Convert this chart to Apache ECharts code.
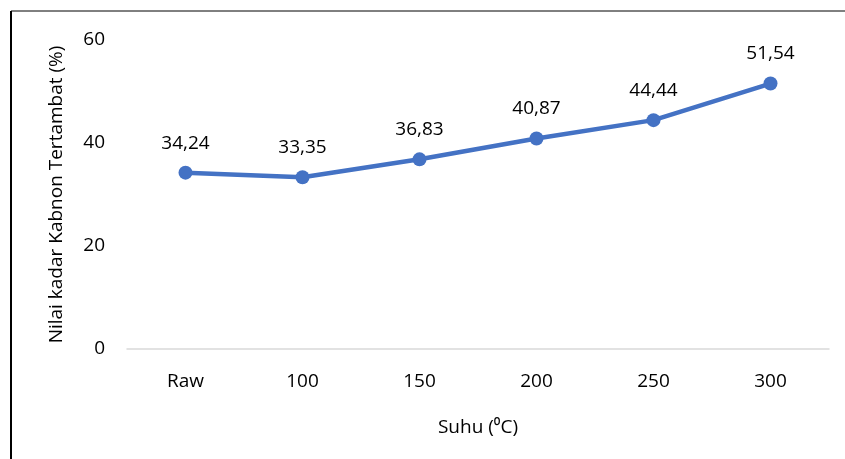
<!DOCTYPE html>
<html>
<head>
<meta charset="utf-8">
<script src="https://cdn.jsdelivr.net/npm/echarts@6/dist/echarts.min.js"></script>
<style>
  html, body { margin: 0; padding: 0; background: #fff; }
  #main { width: 845px; height: 459px; }
</style>
</head>
<body>
<div id="main"></div>
<script>
// data
var categories = ['Raw', '100', '150', '200', '250', '300'];
var kadarKarbon = [34.24, 33.35, 36.83, 40.87, 44.44, 51.54];
var yTicks = [0, 20, 40, 60];

var font = 'Open Sans';
var fs = 19;
var chart = echarts.init(document.getElementById('main'));

chart.setOption({
    textStyle: { fontFamily: font },
    graphic: [
        { type: 'line', shape: { x1: 11, y1: 11, x2: 845, y2: 11 }, style: { stroke: '#000', lineWidth: 1 } },
        { type: 'line', shape: { x1: 11, y1: 11, x2: 11, y2: 459 }, style: { stroke: '#000', lineWidth: 2 } }
    ],
    grid: { left: 127, right: 16, top: 40, bottom: 110 },
    xAxis: {
        type: 'category',
        data: categories,
        boundaryGap: true,
        name: 'Suhu (\u2070C)',
        nameLocation: 'middle',
        nameGap: 69,
        nameTextStyle: { fontSize: fs, color: '#000', fontFamily: font },
        axisLine: { lineStyle: { color: '#d9d9d9', width: 1.5 } },
        axisTick: { show: false },
        axisLabel: { fontSize: fs, color: '#000', margin: 23, fontFamily: font }
    },
    yAxis: {
        type: 'value',
        min: yTicks[0],
        max: yTicks[yTicks.length - 1],
        interval: 20,
        name: 'Nilai kadar Kabnon Tertambat (%)',
        nameLocation: 'middle',
        nameGap: 61,
        nameTextStyle: { fontSize: fs, color: '#000', fontFamily: font },
        splitLine: { show: false },
        axisLine: { show: false },
        axisTick: { show: false },
        axisLabel: { fontSize: fs, color: '#000', margin: 22, fontFamily: font }
    },
    series: [{
        type: 'line',
        data: kadarKarbon,
        symbol: 'circle',
        symbolSize: 14,
        lineStyle: { color: '#4472C4', width: 4.5 },
        itemStyle: { color: '#4472C4' },
        label: {
            show: true,
            position: 'top',
            distance: 13,
            fontSize: fs,
            color: '#000',
            fontFamily: font,
            formatter: function (p) { return p.value.toFixed(2).replace('.', ','); }
        }
    }]
});
</script>
</body>
</html>
